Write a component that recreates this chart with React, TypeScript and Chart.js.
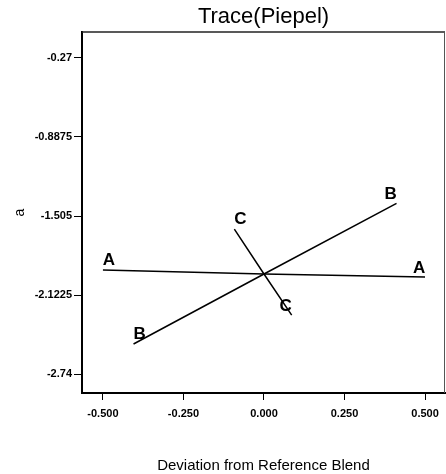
import React, { useEffect, useRef } from 'react';
import { Chart, registerables } from 'chart.js';

Chart.register(...registerables);

const FONT = "'Liberation Sans', Arial, sans-serif";

// Axis ticks
const xTicks = [-0.5, -0.25, 0, 0.25, 0.5];
const xTickLabels = ['-0.500', '-0.250', '0.000', '0.250', '0.500'];
const yTicks = [-0.27, -0.8875, -1.505, -2.1225, -2.74];
const yTickLabels = ['-0.27', '-0.8875', '-1.505', '-2.1225', '-2.74'];

// Axis ranges
const xMin = -0.565;
const xMax = 0.562;
const yMin = -2.888;
const yMax = -0.067;

// Trace series (deviation from reference blend -> response a)
const seriesNames = ['A', 'B', 'C'];
const traceAx = [-0.5, 0, 0.5];
const traceAy = [-1.927, -1.958, -1.982];
const traceBx = [-0.405, 0, 0.4115];
const traceBy = [-2.505, -1.958, -1.406];
const traceCx = [-0.092, 0, 0.086];
const traceCy = [-1.607, -1.958, -2.279];

const seriesX = [traceAx, traceBx, traceCx];
const seriesY = [traceAy, traceBy, traceCy];

const framePlugin = {
  id: 'frameLines',
  afterDraw(chart: any) {
    const { ctx, chartArea } = chart;
    ctx.save();
    ctx.strokeStyle = '#222';
    ctx.lineWidth = 1.5;
    ctx.beginPath();
    ctx.moveTo(chartArea.left, chartArea.top);
    ctx.lineTo(chartArea.right, chartArea.top);
    ctx.stroke();
    ctx.strokeStyle = '#555';
    ctx.lineWidth = 1;
    ctx.beginPath();
    ctx.moveTo(chartArea.right - 0.5, chartArea.top);
    ctx.lineTo(chartArea.right - 0.5, chartArea.bottom);
    ctx.stroke();
    ctx.restore();
  },
};

const endLabelPlugin = {
  id: 'endLabels',
  afterDatasetsDraw(chart: any) {
    const { ctx } = chart;
    const xs = chart.scales.x;
    const ys = chart.scales.y;
    ctx.save();
    ctx.fillStyle = '#000';
    ctx.font = `bold 17px ${FONT}`;
    ctx.textAlign = 'center';
    ctx.textBaseline = 'middle';
    chart.data.datasets.forEach((ds: any) => {
      const pts = ds.data;
      const first = pts[0];
      const last = pts[pts.length - 1];
      ctx.fillText(ds.label, xs.getPixelForValue(first.x) + 6, ys.getPixelForValue(first.y) - 10);
      ctx.fillText(ds.label, xs.getPixelForValue(last.x) - 6, ys.getPixelForValue(last.y) - 9);
    });
    ctx.restore();
  },
};

export default function App() {
  const canvasRef = useRef<HTMLCanvasElement | null>(null);

  useEffect(() => {
    if (!canvasRef.current) return;
    const datasets = seriesNames.map((name, i) => ({
      label: name,
      data: seriesX[i].map((x, j) => ({ x, y: seriesY[i][j] })),
      showLine: true,
      borderColor: '#000',
      borderWidth: 1.5,
      pointRadius: 0,
      fill: false,
    }));

    const chart = new Chart(canvasRef.current, {
      type: 'scatter',
      data: { datasets },
      options: {
        responsive: false,
        animation: false,
        layout: { padding: { left: 0, right: 1, top: 0, bottom: 0 } },
        plugins: {
          legend: { display: false },
          tooltip: { enabled: false },
          title: {
            display: true,
            text: 'Trace(Piepel)',
            fullSize: false,
            color: '#000',
            font: { family: FONT, size: 22, weight: 'normal' },
            padding: { top: 4, bottom: 1.6 },
          },
        },
        scales: {
          x: {
            type: 'linear',
            min: xMin,
            max: xMax,
            afterBuildTicks: (s: any) => {
              s.ticks = xTicks.map((v) => ({ value: v }));
            },
            afterFit: (s: any) => {
              s.height = 81;
            },
            ticks: {
              callback: (_v: any, i: number) => xTickLabels[i],
              color: '#000',
              font: { family: FONT, size: 11, weight: 'bold' },
              padding: 7,
              maxRotation: 0,
              autoSkip: false,
            },
            grid: {
              drawOnChartArea: false,
              drawTicks: true,
              tickLength: 7,
              color: '#000',
              lineWidth: 1,
            },
            border: { color: '#000', width: 2 },
            title: {
              display: true,
              text: 'Deviation from Reference Blend',
              color: '#000',
              font: { family: FONT, size: 15, lineHeight: 1 },
              padding: { top: 0, bottom: 1 },
            },
          },
          y: {
            type: 'linear',
            min: yMin,
            max: yMax,
            afterBuildTicks: (s: any) => {
              s.ticks = yTicks.map((v) => ({ value: v }));
            },
            afterFit: (s: any) => {
              s.width = 82;
            },
            ticks: {
              callback: (_v: any, i: number) => yTickLabels[i],
              color: '#000',
              font: { family: FONT, size: 11, weight: 'bold' },
              padding: 2,
              autoSkip: false,
            },
            grid: {
              drawOnChartArea: false,
              drawTicks: true,
              tickLength: 8,
              color: '#000',
              lineWidth: 1,
            },
            border: { color: '#000', width: 2 },
            title: {
              display: true,
              text: 'a',
              color: '#000',
              font: { family: FONT, size: 14 },
              padding: { top: 12, bottom: 0 },
            },
          },
        },
      },
      plugins: [framePlugin, endLabelPlugin],
    } as any);

    return () => chart.destroy();
  }, []);

  return (
    <div style={{ position: 'fixed', left: 0, top: 0, width: 446, height: 474, background: '#fff' }}>
      <canvas ref={canvasRef} width={446} height={474} style={{ display: 'block' }} />
    </div>
  );
}
